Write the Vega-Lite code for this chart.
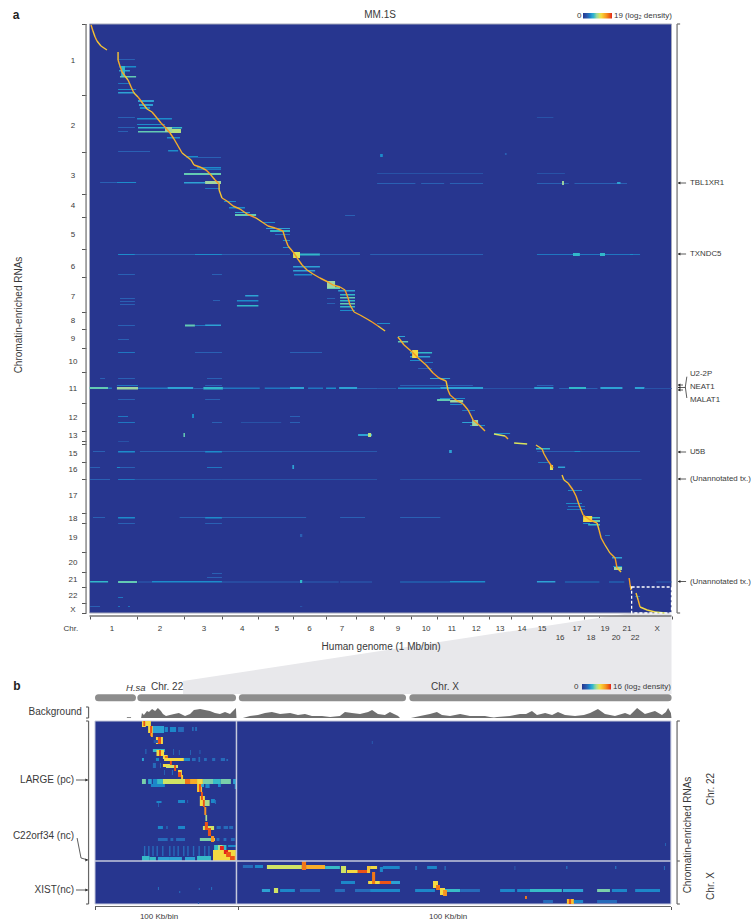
{"$schema":"https://vega.github.io/schema/vega-lite/v6.json","width":751,"height":922,"padding":0,"autosize":{"type":"fit","contains":"padding"},"background":"white","config":{"view":{"stroke":null},"text":{"font":"Liberation Sans","color":"#3a3a3a","baseline":"middle"}},
"resolve":{"scale":{"x":"independent","y":"independent","color":"independent"}},
"layer":[
{"encoding":{"x":{"field":"x","type":"quantitative","scale":{"domain":[-466.9,3450.7],"nice":false,"zero":false},"axis":{"orient":"bottom","offset":-306,"values":[0,249,492,690,881,1062,1233,1392,1538,1679,1815,1950,2084,2199,2306,2409,2499,2580,2658,2717,2780,2828,2879,3036],"labels":false,"domain":false,"grid":false,"tickSize":3,"tickColor":"#555","title":null}},
"y":{"field":"y","type":"quantitative","scale":{"domain":[-24,898],"reverse":true,"nice":false,"zero":false},"axis":{"orient":"left","offset":-86,"values":[0,71,128,170,193,225,253,288,305,324,348,379,407,417,420,438,455,489,499,528,548,563,579,589],"labels":false,"domain":false,"grid":false,"tickSize":4.5,"tickColor":"#555","title":null}}},
"layer":[
{"data":{"values":[{"x":488,"y":657,"y2":670},{"x":2825,"y":589,"y2":670},{"x":3036,"y":589,"y2":670}]},"mark":{"type":"area","color":"#e8e8eb"},"encoding":{"y2":{"field":"y2"}}},
{"data":{"values":[{"x":0,"x2":3036,"y":0,"y2":589}]},"mark":{"type":"rect","fill":"#27368f","stroke":"#a6a9bb","strokeWidth":1},"encoding":{"x2":{"field":"x2"},"y2":{"field":"y2"}}},
{"data":{"values":[
{"x":154,"x2":243,"y":42,"y2":43.5,"v":5},{"x":154,"x2":211,"y":46,"y2":47.5,"v":6},{"x":159,"x2":243,"y":52,"y2":53.5,"v":8},{"x":149,"x2":237,"y":68,"y2":69.5,"v":6},{"x":149,"x2":243,"y":65,"y2":66,"v":5},{"x":154,"x2":237,"y":35,"y2":36,"v":3},{"x":149,"x2":211,"y":59,"y2":60,"v":4},{"x":165,"x2":185,"y":42,"y2":52,"v":7},{"x":253,"x2":336,"y":76,"y2":78,"v":6},{"x":258,"x2":331,"y":80,"y2":82,"v":6},{"x":263,"x2":316,"y":83,"y2":85,"v":5},
{"x":248,"x2":430,"y":94,"y2":95.5,"v":5},{"x":253,"x2":483,"y":103,"y2":104.5,"v":7},{"x":253,"x2":477,"y":107,"y2":108.5,"v":8},{"x":248,"x2":394,"y":100,"y2":101,"v":5},{"x":420,"x2":477,"y":105,"y2":109,"v":10},{"x":394,"x2":430,"y":103,"y2":108,"v":9},{"x":404,"x2":472,"y":113,"y2":114.5,"v":5},{"x":410,"x2":462,"y":126,"y2":127.5,"v":5},{"x":149,"x2":237,"y":93,"y2":94,"v":3},{"x":149,"x2":237,"y":103,"y2":104,"v":3},{"x":149,"x2":201,"y":107,"y2":108,"v":3},{"x":149,"x2":316,"y":127,"y2":128,"v":3},
{"x":503,"x2":566,"y":132,"y2":133.5,"v":5},{"x":566,"x2":686,"y":133,"y2":134,"v":3},{"x":561,"x2":686,"y":143,"y2":144.5,"v":5},{"x":493,"x2":686,"y":149,"y2":151,"v":8},{"x":524,"x2":686,"y":145,"y2":146,"v":4},{"x":493,"x2":603,"y":158,"y2":159.5,"v":6},{"x":603,"x2":686,"y":157,"y2":160,"v":9},{"x":143,"x2":243,"y":158,"y2":159,"v":5},{"x":55,"x2":143,"y":158,"y2":159,"v":3},{"x":603,"x2":681,"y":164,"y2":165,"v":4},
{"x":702,"x2":764,"y":177,"y2":178,"v":5},{"x":728,"x2":811,"y":183,"y2":184.5,"v":5},{"x":759,"x2":869,"y":190,"y2":192,"v":8},{"x":759,"x2":837,"y":188,"y2":189,"v":6},{"x":1333,"x2":1385,"y":191,"y2":192,"v":3},
{"x":900,"x2":968,"y":198,"y2":199,"v":5},{"x":921,"x2":1046,"y":204,"y2":205,"v":6},{"x":942,"x2":1046,"y":206,"y2":208,"v":7},{"x":968,"x2":1046,"y":210,"y2":211,"v":4},{"x":1009,"x2":1046,"y":216,"y2":217,"v":5},{"x":1009,"x2":1046,"y":223,"y2":224,"v":5},
{"x":1062,"x2":1202,"y":229.5,"y2":231.5,"v":7},{"x":1062,"x2":1098,"y":228,"y2":234,"v":11},{"x":149,"x2":237,"y":230,"y2":231,"v":5},{"x":237,"x2":550,"y":230,"y2":231,"v":3},{"x":550,"x2":691,"y":230,"y2":231,"v":5},{"x":691,"x2":1046,"y":230,"y2":231,"v":3},{"x":1202,"x2":1411,"y":230,"y2":231,"v":3},{"x":1464,"x2":2053,"y":230,"y2":231,"v":3},{"x":2334,"x2":2872,"y":230,"y2":231,"v":4},{"x":2522,"x2":2558,"y":229,"y2":232,"v":7},{"x":2663,"x2":2689,"y":229,"y2":232,"v":7},{"x":2820,"x2":2835,"y":230,"y2":231,"v":5},
{"x":1062,"x2":1202,"y":242,"y2":243.5,"v":6},{"x":1062,"x2":1177,"y":246,"y2":247.5,"v":6},{"x":1067,"x2":1161,"y":250,"y2":251.5,"v":5},{"x":149,"x2":237,"y":250,"y2":251,"v":3},{"x":639,"x2":691,"y":250,"y2":251,"v":3},
{"x":1239,"x2":1307,"y":263,"y2":265,"v":8},{"x":1239,"x2":1281,"y":257,"y2":264,"v":9},{"x":1297,"x2":1385,"y":266,"y2":267.5,"v":6},{"x":1307,"x2":1385,"y":270,"y2":271.5,"v":7},{"x":1307,"x2":1385,"y":273,"y2":274.5,"v":8},{"x":1307,"x2":1385,"y":276,"y2":277.5,"v":7},{"x":1307,"x2":1385,"y":279,"y2":280.5,"v":8},{"x":1307,"x2":1385,"y":282,"y2":283.5,"v":7},{"x":1307,"x2":1385,"y":286,"y2":287,"v":5},{"x":1239,"x2":1281,"y":274,"y2":275,"v":3},{"x":1239,"x2":1281,"y":279,"y2":280,"v":3},{"x":159,"x2":237,"y":274,"y2":275,"v":3},{"x":159,"x2":237,"y":277,"y2":278,"v":3},{"x":159,"x2":237,"y":280,"y2":281,"v":3},{"x":644,"x2":681,"y":276,"y2":277,"v":3},{"x":812,"x2":881,"y":271,"y2":272.5,"v":6},{"x":769,"x2":881,"y":276,"y2":277.5,"v":5},{"x":769,"x2":881,"y":281,"y2":282.5,"v":7},
{"x":498,"x2":550,"y":300.5,"y2":302.5,"v":8},{"x":550,"x2":603,"y":301,"y2":302,"v":4},{"x":603,"x2":686,"y":300.5,"y2":302,"v":6},{"x":149,"x2":237,"y":301,"y2":302,"v":3},{"x":1500,"x2":1568,"y":299,"y2":300,"v":5},{"x":1609,"x2":1646,"y":312,"y2":313,"v":6},{"x":1609,"x2":1662,"y":317,"y2":318.5,"v":8},
{"x":1672,"x2":1787,"y":328,"y2":329.5,"v":7},{"x":1672,"x2":1777,"y":332,"y2":333.5,"v":6},{"x":1672,"x2":1724,"y":336,"y2":337,"v":5},{"x":1750,"x2":1792,"y":338,"y2":339,"v":4},{"x":1714,"x2":1787,"y":344,"y2":345,"v":3},{"x":1683,"x2":1714,"y":326,"y2":334,"v":12},{"x":149,"x2":237,"y":328,"y2":329,"v":4},{"x":550,"x2":691,"y":328,"y2":329,"v":3},{"x":1046,"x2":1213,"y":328,"y2":329,"v":3},{"x":1776,"x2":1881,"y":354,"y2":355,"v":6},
{"x":1813,"x2":1881,"y":375,"y2":377,"v":8},{"x":1828,"x2":1959,"y":374,"y2":375,"v":5},{"x":1881,"x2":1949,"y":376,"y2":378.5,"v":9},{"x":1881,"x2":1944,"y":380,"y2":381,"v":5},{"x":1944,"x2":2011,"y":386,"y2":387,"v":4},{"x":1944,"x2":2027,"y":398,"y2":399,"v":6},{"x":1985,"x2":2063,"y":401,"y2":402,"v":5},{"x":1996,"x2":2027,"y":396,"y2":402,"v":9},{"x":2110,"x2":2194,"y":409,"y2":410,"v":5},
{"x":2329,"x2":2402,"y":424,"y2":425.5,"v":7},{"x":2340,"x2":2392,"y":438,"y2":439,"v":4},{"x":2402,"x2":2418,"y":441,"y2":446,"v":11},{"x":2444,"x2":2481,"y":442.5,"y2":444,"v":6},{"x":2496,"x2":2569,"y":466,"y2":467,"v":5},{"x":2486,"x2":2569,"y":479,"y2":480,"v":5},{"x":2496,"x2":2585,"y":482,"y2":483,"v":4},{"x":2491,"x2":2585,"y":485,"y2":486,"v":4},
{"x":2580,"x2":2663,"y":493,"y2":494.5,"v":7},{"x":2575,"x2":2663,"y":496,"y2":498,"v":8},{"x":2601,"x2":2663,"y":500,"y2":501.5,"v":7},{"x":2575,"x2":2611,"y":499,"y2":500,"v":5},{"x":2575,"x2":2622,"y":492,"y2":498,"v":12},{"x":2689,"x2":2715,"y":511,"y2":512,"v":4},{"x":2726,"x2":2778,"y":533,"y2":534.5,"v":6},{"x":2731,"x2":2778,"y":542,"y2":543,"v":5},{"x":2736,"x2":2778,"y":543,"y2":546,"v":9},{"x":2846,"x2":2872,"y":572,"y2":573,"v":4},
{"x":1500,"x2":1700,"y":159,"y2":160,"v":3},{"x":1730,"x2":1850,"y":159,"y2":160,"v":3},{"x":1880,"x2":2053,"y":159,"y2":160,"v":3},{"x":2334,"x2":2500,"y":159,"y2":160,"v":3},{"x":2530,"x2":2804,"y":159,"y2":160,"v":3},{"x":2465,"x2":2475,"y":157,"y2":161,"v":9},{"x":2752,"x2":2770,"y":158,"y2":160,"v":6},{"x":1500,"x2":2053,"y":149,"y2":150,"v":2},{"x":2334,"x2":2480,"y":149,"y2":150,"v":2},{"x":1516,"x2":1530,"y":130,"y2":133,"v":5},{"x":2167,"x2":2176,"y":129,"y2":131,"v":3},{"x":2334,"x2":2420,"y":93,"y2":94,"v":2},
{"x":149,"x2":206,"y":315,"y2":316,"v":3},{"x":55,"x2":81,"y":354,"y2":355,"v":3},{"x":149,"x2":237,"y":354,"y2":355,"v":3},{"x":613,"x2":691,"y":354,"y2":355,"v":3},{"x":149,"x2":237,"y":375,"y2":376,"v":3},{"x":603,"x2":681,"y":375,"y2":376,"v":3},{"x":149,"x2":201,"y":392,"y2":393,"v":4},{"x":535,"x2":545,"y":390,"y2":394,"v":5},{"x":1046,"x2":1098,"y":392,"y2":393,"v":3},{"x":149,"x2":237,"y":398,"y2":399,"v":4},{"x":639,"x2":691,"y":398,"y2":399,"v":3},{"x":1046,"x2":1098,"y":398,"y2":399,"v":3},{"x":790,"x2":1000,"y":398,"y2":399,"v":2},{"x":490,"x2":498,"y":409,"y2":413,"v":8},{"x":1401,"x2":1474,"y":410,"y2":412,"v":6},{"x":1453,"x2":1469,"y":409,"y2":413,"v":10},{"x":149,"x2":206,"y":417,"y2":418,"v":2},
{"x":18,"x2":81,"y":427,"y2":428,"v":3},{"x":149,"x2":237,"y":427,"y2":428.5,"v":5},{"x":263,"x2":603,"y":427,"y2":428,"v":3},{"x":603,"x2":691,"y":427,"y2":428.5,"v":5},{"x":691,"x2":1500,"y":427,"y2":428,"v":2.5},{"x":2334,"x2":2872,"y":427,"y2":428,"v":3},{"x":1876,"x2":1890,"y":426,"y2":429,"v":6},{"x":2530,"x2":2560,"y":427,"y2":428,"v":5},
{"x":3,"x2":55,"y":443,"y2":444,"v":3},{"x":143,"x2":159,"y":443,"y2":444,"v":5},{"x":159,"x2":237,"y":443,"y2":444,"v":3},{"x":613,"x2":691,"y":443,"y2":444,"v":4},{"x":1058,"x2":1067,"y":441,"y2":445,"v":6},{"x":3,"x2":107,"y":455,"y2":456,"v":3},{"x":149,"x2":237,"y":455,"y2":456,"v":4},{"x":237,"x2":691,"y":455,"y2":456,"v":2},{"x":691,"x2":1500,"y":455,"y2":456,"v":2},{"x":1620,"x2":2880,"y":455,"y2":456,"v":2},
{"x":18,"x2":81,"y":493,"y2":494,"v":3},{"x":149,"x2":237,"y":493,"y2":494.5,"v":5},{"x":470,"x2":603,"y":493,"y2":494,"v":3},{"x":603,"x2":691,"y":493,"y2":494.5,"v":5},{"x":691,"x2":1130,"y":493,"y2":494,"v":3},{"x":1307,"x2":1437,"y":493,"y2":494,"v":3},{"x":1620,"x2":1830,"y":493,"y2":494,"v":3},{"x":149,"x2":237,"y":499,"y2":500,"v":3},{"x":603,"x2":691,"y":499,"y2":500,"v":3},{"x":1098,"x2":1110,"y":510,"y2":513,"v":3},{"x":639,"x2":691,"y":549,"y2":550,"v":3},{"x":149,"x2":175,"y":573,"y2":574,"v":4},{"x":3,"x2":55,"y":582,"y2":583,"v":3},{"x":149,"x2":159,"y":582,"y2":583,"v":4},{"x":201,"x2":211,"y":582,"y2":583,"v":4},{"x":1098,"x2":1110,"y":582,"y2":583,"v":2},
{"x":0,"x2":97,"y":363,"y2":365,"v":8},{"x":97,"x2":117,"y":363.5,"y2":365,"v":4},{"x":143,"x2":253,"y":363,"y2":365.5,"v":9},{"x":253,"x2":407,"y":363.5,"y2":365,"v":4},{"x":407,"x2":541,"y":363,"y2":365,"v":6},{"x":541,"x2":594,"y":364,"y2":365,"v":3},{"x":594,"x2":696,"y":363,"y2":365.5,"v":7},{"x":696,"x2":888,"y":363.5,"y2":365,"v":4},{"x":914,"x2":1046,"y":363.5,"y2":365,"v":4},{"x":1046,"x2":1119,"y":363,"y2":365,"v":6},{"x":1140,"x2":1218,"y":363.5,"y2":365,"v":4},{"x":1234,"x2":1286,"y":363.5,"y2":365,"v":5},{"x":1302,"x2":1396,"y":363,"y2":365,"v":6},{"x":1396,"x2":1500,"y":364,"y2":365,"v":3},{"x":1500,"x2":1600,"y":364,"y2":365,"v":2.5},{"x":1609,"x2":1830,"y":363.5,"y2":365,"v":5},{"x":1830,"x2":2053,"y":363,"y2":365,"v":6},{"x":2053,"x2":2320,"y":364,"y2":365,"v":2},{"x":2320,"x2":2420,"y":363,"y2":365,"v":6},{"x":2450,"x2":2500,"y":364,"y2":365,"v":3},{"x":2501,"x2":2590,"y":363,"y2":365,"v":7},{"x":2590,"x2":2650,"y":364,"y2":365,"v":3},{"x":2665,"x2":2780,"y":363,"y2":365,"v":6},{"x":2845,"x2":2895,"y":363,"y2":365,"v":6},{"x":2895,"x2":3036,"y":364,"y2":365,"v":2},{"x":143,"x2":253,"y":361,"y2":362,"v":4},{"x":603,"x2":691,"y":361,"y2":362,"v":3},{"x":1620,"x2":2000,"y":361,"y2":362,"v":3},{"x":2334,"x2":2420,"y":361,"y2":362,"v":3},
{"x":3,"x2":97,"y":557,"y2":558.5,"v":7},{"x":149,"x2":248,"y":557,"y2":559,"v":8},{"x":253,"x2":326,"y":557.5,"y2":558.5,"v":3},{"x":326,"x2":691,"y":557,"y2":558.5,"v":5},{"x":691,"x2":1098,"y":557.5,"y2":558.5,"v":3},{"x":1098,"x2":1110,"y":556,"y2":559,"v":7},{"x":1110,"x2":1300,"y":557.5,"y2":558.5,"v":3},{"x":1307,"x2":1474,"y":557.5,"y2":558.5,"v":3},{"x":1620,"x2":1880,"y":557.5,"y2":558.5,"v":4},{"x":1880,"x2":2064,"y":557,"y2":558.5,"v":5},{"x":2334,"x2":2430,"y":557,"y2":558.5,"v":6},{"x":2480,"x2":2660,"y":557.5,"y2":558.5,"v":4},{"x":2710,"x2":2790,"y":557.5,"y2":558.5,"v":4},{"x":2956,"x2":3036,"y":557.5,"y2":558.5,"v":3},{"x":613,"x2":691,"y":553,"y2":554,"v":3}
]},"mark":{"type":"rect"},"encoding":{"x2":{"field":"x2"},"y2":{"field":"y2"},"color":{"field":"v","type":"quantitative","scale":{"domain":[0,3.2,6.3,9,11.5,15,19],"range":["#27368f","#2b63b5","#35a9d6","#9fd6a0","#f3e34a","#f79a24","#e3231c"]},"legend":{"type":"gradient","orient":"none","legendX":583,"legendY":13,"direction":"horizontal","gradientLength":29,"gradientThickness":5.5,"title":null,"labelExpr":"''","labelFontSize":1}}}},
{"data":{"values":[
{"x":8,"x2":18,"y":1,"y2":7,"v":14},{"x":18,"x2":29,"y":7,"y2":13,"v":13},{"x":29,"x2":39,"y":13,"y2":17,"v":14},{"x":39,"x2":60,"y":17,"y2":22,"v":13},{"x":60,"x2":91,"y":22,"y2":26,"v":13},
{"x":149,"x2":149,"y":28,"y2":36,"v":13},{"x":149,"x2":159,"y":36,"y2":42,"v":14},{"x":159,"x2":170,"y":42,"y2":48,"v":15},{"x":170,"x2":185,"y":48,"y2":52,"v":14},{"x":185,"x2":201,"y":52,"y2":56,"v":13},{"x":201,"x2":217,"y":56,"y2":63,"v":14},{"x":217,"x2":232,"y":63,"y2":69,"v":14},{"x":232,"x2":253,"y":69,"y2":73,"v":13},{"x":253,"x2":269,"y":73,"y2":77,"v":15},{"x":269,"x2":284,"y":77,"y2":81,"v":14},{"x":284,"x2":300,"y":81,"y2":85,"v":13},{"x":300,"x2":326,"y":85,"y2":88,"v":13},{"x":326,"x2":352,"y":88,"y2":94,"v":14},{"x":352,"x2":373,"y":94,"y2":99,"v":14},{"x":373,"x2":394,"y":99,"y2":103,"v":15},{"x":394,"x2":420,"y":103,"y2":109,"v":15},{"x":420,"x2":441,"y":109,"y2":115,"v":14},{"x":441,"x2":462,"y":115,"y2":122,"v":14},{"x":462,"x2":483,"y":122,"y2":129,"v":14},{"x":483,"x2":503,"y":129,"y2":132,"v":13},{"x":503,"x2":530,"y":132,"y2":136,"v":14},{"x":530,"x2":545,"y":136,"y2":141,"v":13},{"x":545,"x2":576,"y":141,"y2":143,"v":14},{"x":576,"x2":608,"y":143,"y2":146,"v":14},{"x":608,"x2":629,"y":146,"y2":150,"v":15},{"x":629,"x2":655,"y":150,"y2":156,"v":14},{"x":655,"x2":676,"y":156,"y2":160,"v":15},{"x":676,"x2":676,"y":160,"y2":166,"v":13},{"x":676,"x2":691,"y":166,"y2":174,"v":13},{"x":691,"x2":717,"y":174,"y2":177,"v":14},{"x":717,"x2":749,"y":177,"y2":182,"v":14},{"x":749,"x2":785,"y":182,"y2":185,"v":14},{"x":785,"x2":822,"y":185,"y2":190,"v":14},{"x":822,"x2":869,"y":190,"y2":194,"v":15},{"x":869,"x2":900,"y":194,"y2":198,"v":13},{"x":900,"x2":931,"y":198,"y2":202,"v":14},{"x":931,"x2":968,"y":202,"y2":204,"v":14},{"x":968,"x2":1009,"y":204,"y2":207,"v":15},{"x":1009,"x2":1020,"y":207,"y2":214,"v":14},{"x":1020,"x2":1036,"y":214,"y2":222,"v":14},{"x":1036,"x2":1062,"y":222,"y2":228,"v":14},{"x":1062,"x2":1083,"y":228,"y2":234,"v":15},{"x":1083,"x2":1109,"y":234,"y2":241,"v":14},{"x":1109,"x2":1135,"y":241,"y2":246,"v":14},{"x":1135,"x2":1166,"y":246,"y2":250,"v":14},{"x":1166,"x2":1202,"y":250,"y2":254,"v":14},{"x":1202,"x2":1244,"y":254,"y2":258,"v":14},{"x":1244,"x2":1270,"y":258,"y2":261,"v":15},{"x":1270,"x2":1307,"y":261,"y2":263,"v":14},{"x":1307,"x2":1333,"y":263,"y2":266,"v":14},{"x":1333,"x2":1349,"y":266,"y2":274,"v":15},{"x":1349,"x2":1359,"y":274,"y2":281,"v":15},{"x":1359,"x2":1380,"y":281,"y2":288,"v":14},{"x":1380,"x2":1411,"y":288,"y2":291,"v":14},{"x":1411,"x2":1448,"y":291,"y2":295,"v":14},{"x":1448,"x2":1474,"y":295,"y2":298,"v":14},{"x":1474,"x2":1505,"y":298,"y2":302,"v":15},{"x":1505,"x2":1542,"y":302,"y2":307,"v":13},
{"x":1609,"x2":1641,"y":313,"y2":321,"v":14},{"x":1641,"x2":1683,"y":321,"y2":328,"v":14},{"x":1683,"x2":1714,"y":328,"y2":334,"v":15},{"x":1714,"x2":1756,"y":334,"y2":341,"v":14},{"x":1756,"x2":1792,"y":341,"y2":349,"v":14},{"x":1792,"x2":1823,"y":349,"y2":354,"v":15},{"x":1823,"x2":1860,"y":354,"y2":357,"v":14},{"x":1860,"x2":1870,"y":357,"y2":366,"v":13},{"x":1870,"x2":1881,"y":366,"y2":371,"v":14},{"x":1881,"x2":1912,"y":371,"y2":376,"v":15},{"x":1912,"x2":1949,"y":376,"y2":380,"v":14},{"x":1949,"x2":1975,"y":380,"y2":386,"v":14},{"x":1975,"x2":2001,"y":386,"y2":396,"v":14},{"x":2001,"x2":2032,"y":396,"y2":401,"v":15},{"x":2032,"x2":2063,"y":401,"y2":407,"v":14},
{"x":2110,"x2":2168,"y":410,"y2":412,"v":11},{"x":2168,"x2":2183,"y":412,"y2":415,"v":14},{"x":2215,"x2":2283,"y":419,"y2":420,"v":11},
{"x":2329,"x2":2361,"y":421,"y2":425,"v":13},{"x":2361,"x2":2371,"y":425,"y2":430,"v":14},{"x":2371,"x2":2392,"y":430,"y2":437,"v":14},{"x":2392,"x2":2418,"y":437,"y2":444,"v":15},
{"x":2465,"x2":2475,"y":451,"y2":456,"v":13},{"x":2475,"x2":2496,"y":456,"y2":459,"v":13},{"x":2496,"x2":2522,"y":459,"y2":466,"v":14},{"x":2522,"x2":2538,"y":466,"y2":472,"v":14},{"x":2538,"x2":2554,"y":472,"y2":481,"v":14},{"x":2554,"x2":2575,"y":481,"y2":491,"v":14},{"x":2575,"x2":2611,"y":491,"y2":496,"v":15},{"x":2611,"x2":2648,"y":496,"y2":499,"v":14},{"x":2648,"x2":2658,"y":499,"y2":506,"v":13},{"x":2658,"x2":2669,"y":506,"y2":514,"v":14},{"x":2669,"x2":2689,"y":514,"y2":521,"v":14},{"x":2689,"x2":2715,"y":521,"y2":529,"v":13},{"x":2715,"x2":2742,"y":529,"y2":534,"v":14},{"x":2742,"x2":2752,"y":534,"y2":544,"v":15},{"x":2752,"x2":2773,"y":544,"y2":548,"v":13},
{"x":2815,"x2":2820,"y":554,"y2":561,"v":15},{"x":2820,"x2":2825,"y":561,"y2":566,"v":14},{"x":2851,"x2":2862,"y":569,"y2":576,"v":13},{"x":2862,"x2":2872,"y":576,"y2":583,"v":14},{"x":2872,"x2":2909,"y":583,"y2":586,"v":12},{"x":2909,"x2":2950,"y":586,"y2":588,"v":12},{"x":2950,"x2":3003,"y":588,"y2":589,"v":11}
]},"mark":{"type":"rule","strokeWidth":1.4},"encoding":{"x2":{"field":"x2"},"y2":{"field":"y2"},"stroke":{"field":"v","type":"quantitative","scale":{"domain":[0,3.2,6.3,9,11.5,15,19],"range":["#27368f","#2b63b5","#35a9d6","#9fd6a0","#f3e34a","#f79a24","#e3231c"]},"legend":null}}},
{"data":{"values":[{"x":2828,"x2":3036,"y":563,"y2":589}]},"mark":{"type":"rect","fillOpacity":0,"stroke":"white","strokeWidth":1.3,"strokeDash":[3,2]},"encoding":{"x2":{"field":"x2"},"y2":{"field":"y2"}}},
{"data":{"values":[{"x":-18,"x2":-18,"y":0,"y2":589},{"x":0,"x2":3036,"y":592,"y2":592},{"x":3065,"x2":3065,"y":0,"y2":589},{"x":3065,"x2":3081,"y":0,"y2":0},{"x":3065,"x2":3081,"y":589,"y2":589}]},"mark":{"type":"rule","color":"#777","strokeWidth":1.3},"encoding":{"x2":{"field":"x2"},"y2":{"field":"y2"}}},
{"data":{"values":[{"x":3070,"x2":3112,"y":159,"y2":159},{"x":3070,"x2":3112,"y":230,"y2":230},{"x":3070,"x2":3096,"y":361,"y2":361},{"x":3070,"x2":3108,"y":363.5,"y2":363.5},{"x":3070,"x2":3096,"y":366,"y2":366},{"x":3108,"x2":3116,"y":363,"y2":352.7},{"x":3108,"x2":3116,"y":363,"y2":374},{"x":3070,"x2":3112,"y":428,"y2":428},{"x":3070,"x2":3112,"y":455,"y2":455},{"x":3070,"x2":3112,"y":557.5,"y2":557.5}]},"mark":{"type":"rule","color":"#333","strokeWidth":0.8},"encoding":{"x2":{"field":"x2"},"y2":{"field":"y2"}}},
{"data":{"values":[{"x":3076,"y":159},{"x":3076,"y":230},{"x":3076,"y":361},{"x":3076,"y":363.5},{"x":3076,"y":366},{"x":3076,"y":428},{"x":3076,"y":455},{"x":3076,"y":557.5}]},"mark":{"type":"point","shape":"triangle-left","filled":true,"color":"#222","size":8,"opacity":1}},
{"data":{"values":[{"x":117,"y":605,"t":"1"},{"x":368,"y":605,"t":"2"},{"x":597,"y":605,"t":"3"},{"x":796,"y":605,"t":"4"},{"x":978,"y":605,"t":"5"},{"x":1148,"y":605,"t":"6"},{"x":1317,"y":605,"t":"7"},{"x":1474,"y":605,"t":"8"},{"x":1609,"y":605,"t":"9"},{"x":1756,"y":605,"t":"10"},{"x":1890,"y":605,"t":"11"},{"x":2017,"y":605,"t":"12"},{"x":2142,"y":605,"t":"13"},{"x":2256,"y":605,"t":"14"},{"x":2361,"y":605,"t":"15"},{"x":2455,"y":614,"t":"16"},{"x":2543,"y":605,"t":"17"},{"x":2616,"y":614,"t":"18"},{"x":2689,"y":605,"t":"19"},{"x":2747,"y":614,"t":"20"},{"x":2804,"y":605,"t":"21"},{"x":2846,"y":614,"t":"22"},{"x":2961,"y":605,"t":"X"},{"x":-97,"y":605,"t":"Chr."},
{"x":-86,"y":37,"t":"1"},{"x":-86,"y":101.5,"t":"2"},{"x":-86,"y":152,"t":"3"},{"x":-86,"y":182,"t":"4"},{"x":-86,"y":211,"t":"5"},{"x":-86,"y":243,"t":"6"},{"x":-86,"y":272.5,"t":"7"},{"x":-86,"y":297,"t":"8"},{"x":-86,"y":315,"t":"9"},{"x":-86,"y":338,"t":"10"},{"x":-86,"y":365,"t":"11"},{"x":-86,"y":394,"t":"12"},{"x":-86,"y":412,"t":"13"},{"x":-86,"y":430,"t":"15"},{"x":-86,"y":446,"t":"16"},{"x":-86,"y":472,"t":"17"},{"x":-86,"y":495,"t":"18"},{"x":-86,"y":514,"t":"19"},{"x":-86,"y":539,"t":"20"},{"x":-86,"y":556,"t":"21"},{"x":-86,"y":571.5,"t":"22"},{"x":-86,"y":586,"t":"X"},{"x":2554,"y":-8.5,"t":"0"}]},"mark":{"type":"text","fontSize":8,"align":"center"},"encoding":{"text":{"field":"t"}}},
{"data":{"values":[{"x":3132,"y":159,"t":"TBL1XR1"},{"x":3132,"y":230,"t":"TXNDC5"},{"x":3132,"y":350,"t":"U2-2P"},{"x":3132,"y":363,"t":"NEAT1"},{"x":3132,"y":376,"t":"MALAT1"},{"x":3132,"y":428,"t":"U5B"},{"x":3132,"y":455,"t":"(Unannotated tx.)"},{"x":3132,"y":557.5,"t":"(Unannotated tx.)"}]},"mark":{"type":"text","fontSize":7.9,"align":"left"},"encoding":{"text":{"field":"t"}}},
{"data":{"values":[{"x":2736,"y":-8.5,"t":"19 (log₂ density)"}]},"mark":{"type":"text","fontSize":8,"align":"left"},"encoding":{"text":{"field":"t"}}},
{"data":{"values":[{"x":1521,"y":623,"t":"Human genome (1 Mb/bin)"},{"x":1516,"y":-9,"t":"MM.1S"}]},"mark":{"type":"text","fontSize":10,"align":"center"},"encoding":{"text":{"field":"t"}}},
{"data":{"values":[{"x":-368,"y":291,"t":"Chromatin-enriched RNAs"}]},"mark":{"type":"text","fontSize":10,"align":"center","angle":270},"encoding":{"text":{"field":"t"}}},
{"data":{"values":[{"x":-383,"y":-9,"t":"a"}]},"mark":{"type":"text","fontSize":12,"fontWeight":"bold","align":"center","color":"#222"},"encoding":{"text":{"field":"t"}}}
]},
{"encoding":{"x":{"field":"x","type":"quantitative","scale":{"domain":[-33.98,234.65],"nice":false,"zero":false},"axis":{"orient":"bottom","offset":-15.5,"values":[0,51,206],"labels":false,"domain":false,"grid":false,"tickSize":3,"tickColor":"#555","title":null}},
"y":{"field":"y","type":"quantitative","scale":{"domain":[-721,201],"reverse":true,"nice":false,"zero":false},"axis":null}},
"layer":[
{"data":{"values":[{"x":1.25,"x2":13.4,"y":-23.3,"y2":-23.3},{"x":16.4,"x2":49.2,"y":-23.3,"y2":-23.3},{"x":52.7,"x2":110,"y":-23.3,"y2":-23.3},{"x":113.7,"x2":205,"y":-23.3,"y2":-23.3}]},"mark":{"type":"rule","color":"#8d8d8d","strokeWidth":7,"strokeCap":"round"},"encoding":{"x2":{"field":"x2"},"y2":{"field":"y2"}}},
{"data":{"values":[
{"s":"a0","x":11.4,"y":-3.8,"y2":-3},{"s":"a0","x":12.9,"y":-3.8,"y2":-3},
{"s":"a","x":16.5,"y":-3,"y2":-3},{"s":"a","x":16.8,"y":-8,"y2":-3},{"s":"a","x":17.5,"y":-6,"y2":-3},{"s":"a","x":18.6,"y":-10,"y2":-3},{"s":"a","x":19.3,"y":-9,"y2":-3},{"s":"a","x":20.4,"y":-12,"y2":-3},{"s":"a","x":21.5,"y":-10,"y2":-3},{"s":"a","x":22.5,"y":-13,"y2":-3},{"s":"a","x":23.6,"y":-10,"y2":-3},{"s":"a","x":24.3,"y":-7,"y2":-3},{"s":"a","x":25.4,"y":-5,"y2":-3},{"s":"a","x":26.8,"y":-6,"y2":-3},{"s":"a","x":28.3,"y":-7,"y2":-3},{"s":"a","x":30,"y":-8,"y2":-3},{"s":"a","x":32.2,"y":-5,"y2":-3},{"s":"a","x":34,"y":-7,"y2":-3},{"s":"a","x":35.4,"y":-11,"y2":-3},{"s":"a","x":37.6,"y":-12,"y2":-3},{"s":"a","x":39.3,"y":-11,"y2":-3},{"s":"a","x":41.1,"y":-10,"y2":-3},{"s":"a","x":42.9,"y":-8,"y2":-3},{"s":"a","x":44.7,"y":-7,"y2":-3},{"s":"a","x":46.5,"y":-9,"y2":-3},{"s":"a","x":48.3,"y":-7,"y2":-3},{"s":"a","x":49.7,"y":-11,"y2":-3},{"s":"a","x":50.4,"y":-13,"y2":-3},{"s":"a","x":50.6,"y":-3,"y2":-3},
{"s":"b","x":52.9,"y":-3,"y2":-3},{"s":"b","x":55.4,"y":-5,"y2":-3},{"s":"b","x":58.3,"y":-6,"y2":-3},{"s":"b","x":60.8,"y":-8,"y2":-3},{"s":"b","x":63.3,"y":-9,"y2":-3},{"s":"b","x":66.2,"y":-7,"y2":-3},{"s":"b","x":69.8,"y":-8,"y2":-3},{"s":"b","x":72.6,"y":-6,"y2":-3},{"s":"b","x":75.1,"y":-7,"y2":-3},{"s":"b","x":77.6,"y":-5,"y2":-3},{"s":"b","x":81.2,"y":-5,"y2":-3},{"s":"b","x":84.1,"y":-4,"y2":-3},{"s":"b","x":87.6,"y":-5,"y2":-3},{"s":"b","x":89.4,"y":-9,"y2":-3},{"s":"b","x":91.9,"y":-8,"y2":-3},{"s":"b","x":94.8,"y":-7,"y2":-3},{"s":"b","x":97.7,"y":-9,"y2":-3},{"s":"b","x":99.1,"y":-11,"y2":-3},{"s":"b","x":101.2,"y":-7,"y2":-3},{"s":"b","x":103.7,"y":-6,"y2":-3},{"s":"b","x":105.5,"y":-9,"y2":-3},{"s":"b","x":108.4,"y":-5,"y2":-3},{"s":"b","x":109.1,"y":-3,"y2":-3},
{"s":"c","x":113,"y":-3,"y2":-3},{"s":"c","x":116.3,"y":-5,"y2":-3},{"s":"c","x":119.8,"y":-7,"y2":-3},{"s":"c","x":122.3,"y":-9,"y2":-3},{"s":"c","x":124.1,"y":-6,"y2":-3},{"s":"c","x":127,"y":-5,"y2":-3},{"s":"c","x":130.6,"y":-7,"y2":-3},{"s":"c","x":134.1,"y":-5,"y2":-3},{"s":"c","x":139.5,"y":-5,"y2":-3},{"s":"c","x":141.3,"y":-4,"y2":-3},{"s":"c","x":142.7,"y":-3.5,"y2":-3},{"s":"c","x":143.8,"y":-4,"y2":-3},{"s":"c","x":148.4,"y":-5,"y2":-3},{"s":"c","x":152,"y":-7,"y2":-3},{"s":"c","x":154.2,"y":-7,"y2":-3},{"s":"c","x":156.3,"y":-10,"y2":-3},{"s":"c","x":158.1,"y":-6,"y2":-3},{"s":"c","x":161,"y":-8,"y2":-3},{"s":"c","x":163.5,"y":-6,"y2":-3},{"s":"c","x":165.6,"y":-9,"y2":-3},{"s":"c","x":168.1,"y":-6,"y2":-3},{"s":"c","x":171.7,"y":-5,"y2":-3},{"s":"c","x":174.9,"y":-6,"y2":-3},{"s":"c","x":177.1,"y":-8,"y2":-3},{"s":"c","x":179.9,"y":-12,"y2":-3},{"s":"c","x":182.4,"y":-7,"y2":-3},{"s":"c","x":186,"y":-5,"y2":-3},{"s":"c","x":189.6,"y":-8,"y2":-3},{"s":"c","x":191.4,"y":-6,"y2":-3},{"s":"c","x":193.9,"y":-13,"y2":-3},{"s":"c","x":196.7,"y":-7,"y2":-3},{"s":"c","x":200.3,"y":-10,"y2":-3},{"s":"c","x":202.8,"y":-6,"y2":-3},{"s":"c","x":204.2,"y":-9,"y2":-3},{"s":"c","x":205,"y":-13,"y2":-3},{"s":"c","x":206,"y":-8,"y2":-3},{"s":"c","x":206.2,"y":-3,"y2":-3}
]},"mark":{"type":"area","color":"#6f6f6f"},"encoding":{"y2":{"field":"y2"},"detail":{"field":"s"}}},
{"data":{"values":[{"x":0,"x2":206,"y":0,"y2":183}]},"mark":{"type":"rect","fill":"#27368f","stroke":"#c5c9dc","strokeWidth":1},"encoding":{"x2":{"field":"x2"},"y2":{"field":"y2"}}},
{"data":{"values":[
{"x":16.8,"x2":18.2,"y":0,"y2":6,"v":10},{"x":17.3,"x2":17.9,"y":0,"y2":5,"v":15},{"x":18.2,"x2":20,"y":0,"y2":5,"v":10},{"x":19,"x2":20.7,"y":5,"y2":12,"v":10},{"x":19.7,"x2":20.4,"y":5,"y2":15,"v":15},{"x":20,"x2":20.7,"y":12,"y2":16,"v":12},{"x":20.7,"x2":24.7,"y":5,"y2":12,"v":5},{"x":24.9,"x2":26.1,"y":6,"y2":11,"v":4},{"x":26.8,"x2":29,"y":6,"y2":11,"v":4},{"x":29.7,"x2":31.8,"y":6,"y2":11,"v":3},{"x":34.7,"x2":35.3,"y":6,"y2":10,"v":3},{"x":35.8,"x2":36.5,"y":6,"y2":10,"v":3},
{"x":21.8,"x2":24.3,"y":16,"y2":23,"v":10},{"x":22.5,"x2":23.6,"y":16,"y2":23,"v":15},{"x":21,"x2":22.5,"y":19,"y2":22,"v":2},
{"x":20.7,"x2":25,"y":28,"y2":31,"v":6},{"x":22,"x2":24.7,"y":29,"y2":35,"v":10},{"x":22.9,"x2":23.6,"y":29,"y2":35,"v":15},{"x":24.3,"x2":26,"y":34,"y2":38,"v":10},{"x":25,"x2":26.1,"y":35,"y2":40,"v":14},
{"x":24.7,"x2":31.8,"y":37,"y2":40,"v":10},{"x":16.8,"x2":17.5,"y":37,"y2":40,"v":5},{"x":21.8,"x2":22.9,"y":37,"y2":40,"v":4},{"x":31.8,"x2":34,"y":37,"y2":40,"v":4},{"x":34.7,"x2":36,"y":37,"y2":40,"v":3},{"x":37,"x2":37.6,"y":36,"y2":41,"v":3},{"x":39,"x2":40,"y":37,"y2":40,"v":3},{"x":41.9,"x2":43,"y":37,"y2":40,"v":3},{"x":45,"x2":46.5,"y":37,"y2":40,"v":3},{"x":47,"x2":47.6,"y":38,"y2":40,"v":3},
{"x":18,"x2":18.4,"y":28,"y2":33,"v":3},{"x":27.9,"x2":28.2,"y":28,"y2":34,"v":3},{"x":30,"x2":30.3,"y":29,"y2":34,"v":3},{"x":34,"x2":34.3,"y":29,"y2":34,"v":3},{"x":37.4,"x2":37.7,"y":29,"y2":33,"v":3},
{"x":24.3,"x2":27.2,"y":43,"y2":46,"v":10},{"x":26.8,"x2":27.5,"y":40,"y2":46,"v":15},{"x":25.4,"x2":29.7,"y":44,"y2":47,"v":9},{"x":28.3,"x2":29,"y":44,"y2":50,"v":15},{"x":29.7,"x2":31.1,"y":49,"y2":55,"v":10},{"x":29.7,"x2":30.8,"y":51,"y2":56,"v":15},{"x":30.8,"x2":31.5,"y":54,"y2":59,"v":11},{"x":31.5,"x2":31.8,"y":59,"y2":62,"v":8},{"x":20.7,"x2":21.8,"y":42,"y2":47,"v":3},{"x":23.3,"x2":23.6,"y":42,"y2":47,"v":3},{"x":24.7,"x2":25,"y":49,"y2":54,"v":3},{"x":27.5,"x2":27.9,"y":49,"y2":54,"v":3},
{"x":16.8,"x2":18.2,"y":58,"y2":63,"v":7},{"x":19,"x2":20.3,"y":58,"y2":63,"v":5},{"x":20.7,"x2":22.2,"y":58,"y2":63,"v":4},{"x":22.2,"x2":24.3,"y":58,"y2":63,"v":6},{"x":24.3,"x2":32.2,"y":58,"y2":63,"v":9},{"x":32.2,"x2":34,"y":58,"y2":63,"v":14},{"x":34,"x2":36.5,"y":58,"y2":63,"v":12},{"x":36.5,"x2":38.6,"y":58,"y2":63,"v":10},{"x":38.6,"x2":42.2,"y":58,"y2":63,"v":7},{"x":42.2,"x2":45,"y":58,"y2":63,"v":6},{"x":45,"x2":48.6,"y":58,"y2":63,"v":7},{"x":49.4,"x2":50.4,"y":58,"y2":63,"v":5},
{"x":20,"x2":25,"y":63,"y2":66,"v":4},{"x":36.5,"x2":38.3,"y":63,"y2":71,"v":11},{"x":37.2,"x2":37.9,"y":63,"y2":71,"v":15},{"x":38,"x2":39,"y":63,"y2":66,"v":5},{"x":39.5,"x2":41,"y":63,"y2":67,"v":4},{"x":44,"x2":45,"y":63,"y2":66,"v":4},{"x":50,"x2":50.4,"y":63,"y2":68,"v":5},
{"x":37.5,"x2":39.3,"y":75,"y2":85,"v":10},{"x":37.9,"x2":38.6,"y":71,"y2":79,"v":15},{"x":38.6,"x2":39.3,"y":79,"y2":86,"v":15},{"x":39.3,"x2":41,"y":79,"y2":85,"v":8},{"x":41.5,"x2":42.9,"y":78,"y2":82,"v":4},{"x":22,"x2":23.8,"y":80,"y2":82,"v":4},{"x":29.7,"x2":32.2,"y":79,"y2":82,"v":4},{"x":33,"x2":33.3,"y":79,"y2":82,"v":3},{"x":22.6,"x2":22.9,"y":82,"y2":86,"v":3},{"x":42.9,"x2":43.3,"y":79,"y2":83,"v":3},{"x":39.1,"x2":39.8,"y":86,"y2":94,"v":13},{"x":39.5,"x2":40.1,"y":94,"y2":100,"v":8},
{"x":38.6,"x2":42.6,"y":105,"y2":109,"v":9},{"x":39.3,"x2":40.4,"y":101,"y2":109,"v":15},{"x":40.4,"x2":41.5,"y":107,"y2":115,"v":15},{"x":37.5,"x2":41.5,"y":117,"y2":120,"v":7},{"x":41.5,"x2":42.9,"y":117,"y2":120,"v":10},{"x":41.5,"x2":42.6,"y":115,"y2":121,"v":13},
{"x":22.5,"x2":24.3,"y":105,"y2":108,"v":4},{"x":25.5,"x2":26,"y":105,"y2":108,"v":3},{"x":29.7,"x2":32.2,"y":105,"y2":108,"v":4},{"x":43.5,"x2":45,"y":105,"y2":108,"v":3},{"x":46,"x2":47.6,"y":105,"y2":108,"v":3},{"x":48,"x2":49.4,"y":105,"y2":108,"v":3},{"x":22.5,"x2":26,"y":117,"y2":120,"v":3},{"x":27,"x2":28,"y":117,"y2":120,"v":3},{"x":29,"x2":32.2,"y":117,"y2":120,"v":3},{"x":43.5,"x2":44.5,"y":117,"y2":120,"v":3},{"x":46,"x2":47,"y":117,"y2":120,"v":3},{"x":48.6,"x2":50,"y":117,"y2":120,"v":3},
{"x":42.2,"x2":50.4,"y":129,"y2":140,"v":10},{"x":42.6,"x2":47,"y":124,"y2":129,"v":6},{"x":44,"x2":45.6,"y":124,"y2":129,"v":8},{"x":47.6,"x2":50.4,"y":124,"y2":126,"v":4},{"x":44.7,"x2":46.1,"y":125,"y2":129,"v":16},{"x":46.1,"x2":47.6,"y":129,"y2":133,"v":16},{"x":46.9,"x2":48.6,"y":131,"y2":136,"v":15},{"x":48.3,"x2":50,"y":135,"y2":139,"v":15},
{"x":16.8,"x2":19.5,"y":135,"y2":140,"v":6},{"x":19.5,"x2":21.8,"y":136,"y2":140,"v":6},{"x":22.5,"x2":26.8,"y":136,"y2":140,"v":5},{"x":26.8,"x2":31.1,"y":136,"y2":140,"v":5},{"x":32.2,"x2":35.8,"y":136,"y2":140,"v":5},{"x":36.5,"x2":41.5,"y":135,"y2":140,"v":6},
{"x":17.5,"x2":18,"y":125,"y2":135,"v":3},{"x":19,"x2":19.5,"y":125,"y2":135,"v":3},{"x":20.5,"x2":21,"y":125,"y2":135,"v":3},{"x":22,"x2":22.5,"y":125,"y2":135,"v":3},{"x":24,"x2":24.5,"y":125,"y2":135,"v":3},{"x":26.5,"x2":27,"y":125,"y2":135,"v":3},{"x":28,"x2":28.5,"y":125,"y2":135,"v":3},{"x":29.5,"x2":30,"y":125,"y2":135,"v":3},{"x":31.5,"x2":32,"y":125,"y2":135,"v":3},{"x":33,"x2":33.5,"y":125,"y2":135,"v":3},{"x":35,"x2":35.5,"y":125,"y2":135,"v":3},{"x":37,"x2":37.5,"y":125,"y2":135,"v":3},{"x":39,"x2":39.5,"y":125,"y2":135,"v":3},{"x":40.5,"x2":41,"y":125,"y2":135,"v":3},
{"x":52.9,"x2":56.5,"y":144,"y2":147,"v":3},{"x":57.2,"x2":60.1,"y":144,"y2":147,"v":4},{"x":61.5,"x2":74,"y":144,"y2":148,"v":9},{"x":75.5,"x2":82.3,"y":144,"y2":148,"v":12},{"x":74,"x2":75.5,"y":140,"y2":149,"v":14},{"x":82.3,"x2":87.6,"y":145,"y2":148,"v":6},{"x":88,"x2":89.8,"y":145,"y2":152,"v":9},{"x":90.1,"x2":94,"y":149,"y2":152,"v":10},{"x":94,"x2":97.3,"y":149,"y2":152,"v":15},{"x":97.3,"x2":98.4,"y":145,"y2":152,"v":11},{"x":98.4,"x2":100.9,"y":145,"y2":148,"v":10},{"x":97.7,"x2":101.9,"y":160,"y2":163,"v":10},{"x":99.1,"x2":100.2,"y":151,"y2":163,"v":14},{"x":101.9,"x2":105.9,"y":160,"y2":163,"v":15},{"x":105.9,"x2":109.1,"y":160,"y2":163,"v":5},{"x":88,"x2":93,"y":160,"y2":163,"v":4},{"x":103,"x2":109,"y":145,"y2":148,"v":4},{"x":101.9,"x2":103,"y":146,"y2":151,"v":4},
{"x":59.7,"x2":62.6,"y":168,"y2":171,"v":5},{"x":64,"x2":65.5,"y":167,"y2":172,"v":9},{"x":66.2,"x2":71.5,"y":168,"y2":171,"v":4},{"x":73.3,"x2":80.5,"y":168,"y2":171,"v":3},{"x":85.8,"x2":89.4,"y":168,"y2":171,"v":3},{"x":93,"x2":98.4,"y":168,"y2":171,"v":3},{"x":98.4,"x2":109.1,"y":168,"y2":171,"v":4},{"x":114.5,"x2":121.6,"y":168,"y2":171,"v":4},{"x":125,"x2":130.6,"y":168,"y2":171,"v":6},{"x":130.6,"x2":137.7,"y":168,"y2":171,"v":3},{"x":144.9,"x2":150.2,"y":168,"y2":171,"v":4},{"x":151,"x2":155.6,"y":168,"y2":171,"v":4},{"x":155.6,"x2":167,"y":168,"y2":171,"v":6},{"x":167.4,"x2":174.6,"y":168,"y2":171,"v":5},{"x":179.6,"x2":184.2,"y":168,"y2":171,"v":7},{"x":184.9,"x2":190.3,"y":168,"y2":171,"v":4},{"x":193.2,"x2":202.1,"y":168,"y2":171,"v":4},
{"x":120.9,"x2":122.7,"y":160,"y2":167,"v":10},{"x":122,"x2":123.4,"y":164,"y2":169,"v":14},{"x":123.4,"x2":125.2,"y":167,"y2":174,"v":10},{"x":124.5,"x2":125.9,"y":169,"y2":175,"v":13},
{"x":118.8,"x2":122.3,"y":145,"y2":148,"v":4},{"x":114.5,"x2":115.2,"y":145,"y2":149,"v":3},{"x":125,"x2":125.5,"y":145,"y2":149,"v":3},{"x":150,"x2":150.4,"y":145,"y2":149,"v":2},{"x":168.5,"x2":169,"y":145,"y2":148,"v":3},{"x":186,"x2":186.5,"y":145,"y2":148,"v":3},{"x":203.5,"x2":203.9,"y":145,"y2":149,"v":3},
{"x":153.8,"x2":154.5,"y":175,"y2":178,"v":14},{"x":168.8,"x2":171.3,"y":178,"y2":183,"v":11},{"x":169.5,"x2":170.3,"y":178,"y2":183,"v":15},{"x":160.3,"x2":163.8,"y":179,"y2":182,"v":3},{"x":171.3,"x2":174.6,"y":179,"y2":182,"v":4},{"x":179.6,"x2":186.7,"y":179,"y2":182,"v":3},
{"x":22.5,"x2":22.9,"y":166,"y2":169,"v":3},{"x":30.1,"x2":30.5,"y":170,"y2":172,"v":3},{"x":37.1,"x2":37.5,"y":167,"y2":169,"v":3},{"x":41.5,"x2":41.9,"y":166,"y2":169,"v":3},{"x":36.8,"x2":37.2,"y":181,"y2":183,"v":2},{"x":203.9,"x2":204.2,"y":122,"y2":125,"v":3},{"x":99,"x2":99.4,"y":20,"y2":23,"v":2}
]},"mark":{"type":"rect"},"encoding":{"x2":{"field":"x2"},"y2":{"field":"y2"},"color":{"field":"v","type":"quantitative","scale":{"domain":[0,2.7,5.3,7.5,9.6,12.8,16],"range":["#27368f","#2b63b5","#35a9d6","#9fd6a0","#f3e34a","#f79a24","#e3231c"]},"legend":{"type":"gradient","orient":"none","legendX":582,"legendY":684,"direction":"horizontal","gradientLength":29,"gradientThickness":5.5,"title":null,"labelExpr":"''","labelFontSize":1}}}},
{"data":{"values":[{"x":0,"x2":206,"y":140,"y2":140},{"x":50.6,"x2":50.6,"y":0,"y2":183}]},"mark":{"type":"rule","color":"#c5c9dc","strokeWidth":1.5},"encoding":{"x2":{"field":"x2"},"y2":{"field":"y2"}}},
{"data":{"values":[{"x":-2.3,"x2":-2.3,"y":0,"y2":183},{"x":-3.2,"x2":-2.3,"y":0,"y2":0},{"x":-3.2,"x2":-2.3,"y":183,"y2":183},{"x":-2.3,"x2":-2.3,"y":-14,"y2":-3},{"x":-3.2,"x2":-2.3,"y":-14,"y2":-14},{"x":-3.2,"x2":-2.3,"y":-3,"y2":-3},{"x":208.2,"x2":208.2,"y":0,"y2":183},{"x":208.2,"x2":209.2,"y":0,"y2":0},{"x":208.2,"x2":209.2,"y":140,"y2":140},{"x":208.2,"x2":209.2,"y":183,"y2":183},{"x":0,"x2":206,"y":185.5,"y2":185.5}]},"mark":{"type":"rule","color":"#666","strokeWidth":1.2},"encoding":{"x2":{"field":"x2"},"y2":{"field":"y2"}}},
{"data":{"values":[{"x":-6.8,"x2":-2.5,"y":59,"y2":59},{"x":-6.8,"x2":-2.5,"y":169,"y2":169},{"x":-6.4,"x2":-5,"y":117,"y2":137},{"x":-5,"x2":-2.5,"y":137,"y2":139}]},"mark":{"type":"rule","color":"#333","strokeWidth":0.8},"encoding":{"x2":{"field":"x2"},"y2":{"field":"y2"}}},
{"data":{"values":[{"x":-3,"y":59},{"x":-3,"y":169},{"x":-3,"y":139}]},"mark":{"type":"point","shape":"triangle-right","filled":true,"color":"#222","size":8,"opacity":1}},
{"data":{"values":[{"x":25.8,"y":-34,"t":"Chr. 22"},{"x":125.2,"y":-34,"t":"Chr. X"}]},"mark":{"type":"text","fontSize":10,"align":"center"},"encoding":{"text":{"field":"t"}}},
{"data":{"values":[{"x":14.6,"y":-33.5,"t":"H.sa"}]},"mark":{"type":"text","fontSize":9.5,"fontStyle":"italic","align":"center"},"encoding":{"text":{"field":"t"}}},
{"data":{"values":[{"x":-4.7,"y":-9,"t":"Background"},{"x":-7.5,"y":59,"t":"LARGE (pc)"},{"x":-7.5,"y":115,"t":"C22orf34 (nc)"},{"x":-7.5,"y":169,"t":"XIST(nc)"}]},"mark":{"type":"text","fontSize":10,"align":"right"},"encoding":{"text":{"field":"t"}}},
{"data":{"values":[{"x":22.9,"y":196,"t":"100 Kb/bin"},{"x":126.3,"y":196,"t":"100 Kb/bin"},{"x":172.1,"y":-34,"t":"0"}]},"mark":{"type":"text","fontSize":8,"align":"center"},"encoding":{"text":{"field":"t"}}},
{"data":{"values":[{"x":185.3,"y":-34,"t":"16 (log₂ density)"}]},"mark":{"type":"text","fontSize":8,"align":"left"},"encoding":{"text":{"field":"t"}}},
{"data":{"values":[{"x":212.1,"y":114,"t":"Chromatin-enriched RNAs"},{"x":220.3,"y":68,"t":"Chr. 22"},{"x":220.3,"y":165,"t":"Chr. X"}]},"mark":{"type":"text","fontSize":10,"align":"center","angle":270},"encoding":{"text":{"field":"t"}}},
{"data":{"values":[{"x":-27.9,"y":-35,"t":"b"}]},"mark":{"type":"text","fontSize":12,"fontWeight":"bold","align":"center","color":"#222"},"encoding":{"text":{"field":"t"}}}
]}
]}
